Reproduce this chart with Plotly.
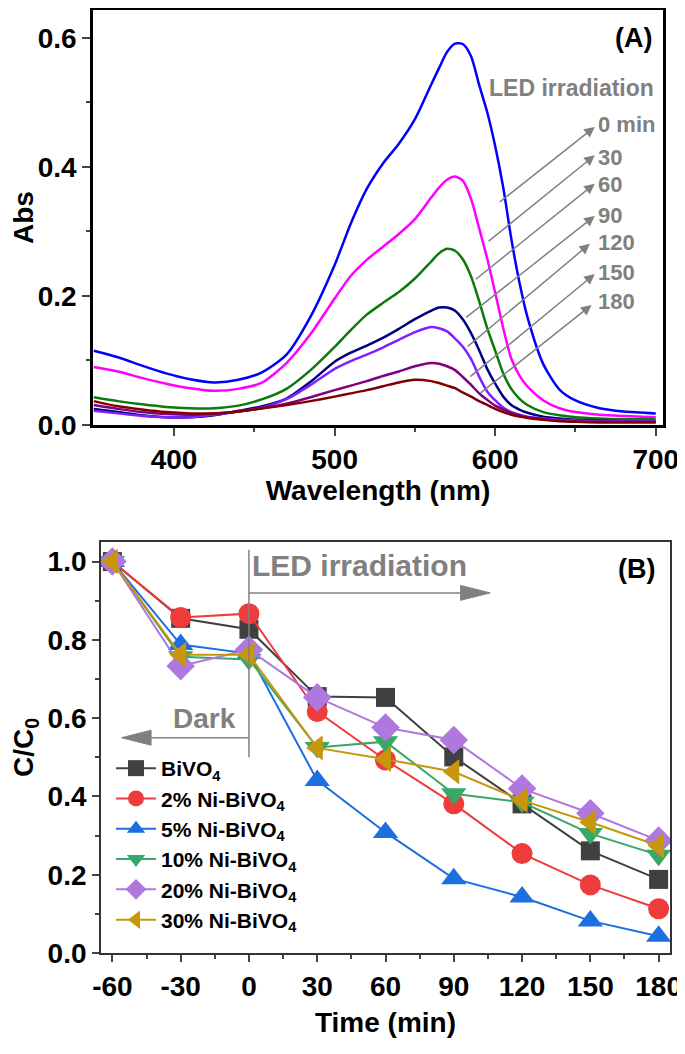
import plotly.graph_objects as go
from plotly.subplots import make_subplots

# ---- panel A: UV-vis spectra under LED irradiation ----
wavelength = [350, 365, 380, 395, 410, 425, 440, 455, 470, 485, 500, 510, 520, 530, 540,
              550, 560, 565, 570, 575, 580, 585, 590, 595, 600, 605, 610, 615, 620, 630,
              640, 650, 665, 680, 700]

abs_0 = [.115, .105, .092, .080, .071, .066, .070, .082, .109, .168, .248, .312, .366, .405, .436,
         .474, .527, .553, .578, .591, .590, .571, .527, .485, .432, .368, .289, .222, .168, .094,
         .055, .038, .026, .021, .018]
abs_30 = [.090, .083, .073, .064, .057, .053, .056, .066, .096, .141, .196, .231, .256, .276, .296,
          .319, .352, .368, .380, .385, .378, .350, .305, .258, .205, .150, .103, .077, .060, .038,
          .026, .020, .016, .014, .012]
abs_60 = [.043, .037, .032, .028, .026, .026, .030, .040, .056, .085, .121, .147, .171, .189, .206,
          .227, .253, .266, .273, .270, .256, .230, .192, .150, .115, .080, .056, .041, .031, .020,
          .015, .012, .010, .009, .009]
abs_90 = [.025, .020, .015, .012, .012, .015, .022, .029, .041, .067, .098, .112, .123, .135, .149,
          .164, .177, .182, .182, .177, .163, .142, .116, .087, .064, .044, .031, .024, .019, .013,
          .010, .008, .007, .006, .006]
abs_120 = [.022, .018, .014, .012, .012, .016, .021, .027, .040, .062, .087, .099, .109, .120, .132,
           .144, .152, .150, .145, .134, .121, .102, .075, .052, .038, .027, .020, .016, .013, .010,
           .008, .007, .006, .006, .006]
abs_150 = [.031, .025, .020, .017, .016, .018, .021, .026, .033, .043, .054, .061, .068, .076, .083,
           .091, .096, .095, .091, .085, .074, .062, .049, .039, .030, .024, .019, .015, .012, .009,
           .007, .006, .005, .005, .005]
abs_180 = [.037, .029, .024, .020, .018, .018, .021, .026, .031, .037, .044, .049, .054, .060, .066,
           .070, .068, .065, .061, .057, .050, .044, .037, .031, .025, .020, .016, .013, .011, .008,
           .006, .005, .004, .004, .004]

spectra = [abs_0, abs_30, abs_60, abs_90, abs_120, abs_150, abs_180]
spectra_names = ["0 min", "30", "60", "90", "120", "150", "180"]
spectra_colors = ["#0000FF", "#FF00FF", "#0A7A0A", "#000080", "#8020FF", "#800080", "#800000"]

# arrow tails / heads and label heights (panel A)
arrow_tail_x = [602, 595, 587, 581, 582, 583.5, 590]
arrow_tail_y = [0.344, 0.283, 0.224, 0.165, 0.120, 0.073, 0.048]
arrow_head_x = [662, 662, 662, 662, 659, 662, 660]
arrow_head_y = [0.462, 0.418, 0.374, 0.324, 0.281, 0.234, 0.186]
label_y = [0.465, 0.414, 0.372, 0.324, 0.283, 0.236, 0.192]

# ---- panel B: C/C0 vs time ----
time_min = [-60, -30, 0, 30, 60, 90, 120, 150, 180]
time_labels = ["-60", "-30", "0", "30", "60", "90", "120", "150", "180"]
c_bivo4 = [1.0, 0.855, 0.827, 0.655, 0.653, 0.501, 0.381, 0.261, 0.188]
c_2ni = [1.0, 0.857, 0.867, 0.617, 0.493, 0.381, 0.254, 0.174, 0.113]
c_5ni = [1.0, 0.788, 0.765, 0.441, 0.308, 0.190, 0.143, 0.082, 0.043]
c_10ni = [1.0, 0.757, 0.750, 0.525, 0.540, 0.407, 0.385, 0.305, 0.250]
c_20ni = [1.0, 0.733, 0.775, 0.653, 0.576, 0.544, 0.420, 0.357, 0.287]
c_30ni = [1.0, 0.762, 0.762, 0.524, 0.495, 0.463, 0.390, 0.334, 0.274]

series_b = [c_bivo4, c_2ni, c_5ni, c_10ni, c_20ni, c_30ni]
names_b = ["BiVO<sub>4</sub>", "2% Ni-BiVO<sub>4</sub>", "5% Ni-BiVO<sub>4</sub>",
           "10% Ni-BiVO<sub>4</sub>", "20% Ni-BiVO<sub>4</sub>", "30% Ni-BiVO<sub>4</sub>"]
colors_b = ["#404040", "#EE3B3B", "#1C6FE0", "#38A868", "#AF78DE", "#C8960C"]
symbols_b = ["square", "circle", "triangle-up", "triangle-down", "diamond", "triangle-left"]
sizes_b = [19, 21, 22, 22, 22, 22]

FONT = "Liberation Sans, Arial, sans-serif"
GRAY = "#808080"

# the page body adds an 8px margin, so the figure is a bit smaller than the window
W, H = 677, 1046

fig = make_subplots(rows=2, cols=1)

for ys, nm, col in zip(spectra, spectra_names, spectra_colors):
    fig.add_trace(go.Scatter(x=wavelength, y=ys, mode="lines", name=nm, showlegend=False,
                             line=dict(color=col, width=2.5, shape="spline", smoothing=0.7)),
                  row=1, col=1)

for ys, nm, col, sym, sz in zip(series_b, names_b, colors_b, symbols_b, sizes_b):
    fig.add_trace(go.Scatter(x=time_min, y=ys, mode="lines+markers", name=nm,
                             line=dict(color=col, width=2),
                             marker=dict(symbol=sym, size=sz, color=col, line=dict(width=0))),
                  row=2, col=1)

tick_font = dict(family=FONT, size=28, color="black", weight="bold")
title_font = dict(family=FONT, size=28, color="black", weight="bold")

# panel A axes
fig.update_xaxes(row=1, col=1, domain=[85 / W, 655 / W], range=[349.5, 704.5], automargin=False,
                 tickvals=[400, 500, 600, 700], ticks="outside", ticklen=8, tickwidth=2,
                 minor=dict(tickvals=[450, 550, 650], ticks="outside", ticklen=4, tickwidth=2),
                 showline=True, linewidth=2.5, linecolor="black", mirror=True,
                 showgrid=False, zeroline=False, tickfont=tick_font,
                 title=dict(text="Wavelength (nm)", font=title_font, standoff=4))
fig.update_yaxes(row=1, col=1, domain=[1 - 417 / H, 0.998], range=[0, 0.643], automargin=False,
                 tickvals=[0, 0.2, 0.4, 0.6], ticktext=["0.0", "0.2", "0.4", "0.6"],
                 ticks="outside", ticklen=8, tickwidth=2,
                 minor=dict(tickvals=[0.1, 0.3, 0.5], ticks="outside", ticklen=4, tickwidth=2),
                 showline=True, linewidth=2.5, linecolor="black", mirror=True,
                 showgrid=False, zeroline=False, tickfont=tick_font,
                 title=dict(text="Abs", font=title_font, standoff=8))

# panel B axes
fig.update_xaxes(row=2, col=1, domain=[93 / W, 662 / W], range=[-65, 185], automargin=False,
                 tickvals=time_min, ticktext=time_labels, ticks="outside", ticklen=7, tickwidth=1.5,
                 minor=dict(dtick=15, tick0=-45, ticks="outside", ticklen=4, tickwidth=1.5),
                 showline=True, linewidth=1.8, linecolor="#333333", mirror=True,
                 showgrid=False, zeroline=False, tickfont=tick_font,
                 title=dict(text="Time (min)", font=title_font, standoff=12))
fig.update_yaxes(row=2, col=1, domain=[1 - 945 / H, 1 - 534 / H], range=[0, 1.05], automargin=False,
                 tickvals=[0, 0.2, 0.4, 0.6, 0.8, 1.0],
                 ticktext=["0.0", "0.2", "0.4", "0.6", "0.8", "1.0"],
                 ticks="outside", ticklen=7, tickwidth=1.5,
                 minor=dict(dtick=0.1, ticks="outside", ticklen=4, tickwidth=1.5),
                 showline=True, linewidth=1.8, linecolor="#333333", mirror=True,
                 showgrid=False, zeroline=False, tickfont=tick_font,
                 title=dict(text="C/C<sub>0</sub>", font=title_font, standoff=8))

ann = []
# panel A labels and arrows
ann.append(dict(x=700, y=0.522, xref="x", yref="y", text="LED irradiation", showarrow=False,
                xanchor="right", yanchor="middle",
                font=dict(family=FONT, size=23, color=GRAY, weight="bold")))
ann.append(dict(x=699, y=0.60, xref="x", yref="y", text="(A)", showarrow=False,
                xanchor="right", yanchor="middle",
                font=dict(family=FONT, size=27, color="black", weight="bold")))
for tx, ty, hx, hy, ly, nm in zip(arrow_tail_x, arrow_tail_y, arrow_head_x, arrow_head_y,
                                  label_y, spectra_names):
    ann.append(dict(x=hx, y=hy, ax=tx, ay=ty, xref="x", yref="y", axref="x", ayref="y",
                    text="", showarrow=True, arrowhead=2, arrowsize=1.4, arrowwidth=1.5,
                    arrowcolor=GRAY, standoff=0))
    ann.append(dict(x=663, y=ly, xref="x", yref="y", text=nm, showarrow=False,
                    xanchor="left", yanchor="middle",
                    font=dict(family=FONT, size=22, color=GRAY, weight="bold")))

# panel B labels
ann.append(dict(x=0.5, y=0.99, xref="x2", yref="y2", text="LED irradiation", showarrow=False,
                xanchor="left", yanchor="middle",
                font=dict(family=FONT, size=30, color=GRAY, weight="bold")))
ann.append(dict(x=-5, y=0.60, xref="x2", yref="y2", text="Dark", showarrow=False,
                xanchor="right", yanchor="middle",
                font=dict(family=FONT, size=28, color=GRAY, weight="bold")))
ann.append(dict(x=179.5, y=0.98, xref="x2", yref="y2", text="(B)", showarrow=False,
                xanchor="right", yanchor="middle",
                font=dict(family=FONT, size=27, color="black", weight="bold")))

shapes = [
    dict(type="line", xref="x2", yref="y2", x0=0, x1=0, y0=0.50, y1=1.03,
         line=dict(color=GRAY, width=1.5)),
    dict(type="line", xref="x2", yref="y2", x0=0, x1=93, y0=0.92, y1=0.92,
         line=dict(color=GRAY, width=1.5)),
    dict(type="path", xref="x2", yref="y2", path="M 93,0.901 L 106,0.92 L 93,0.939 Z",
         fillcolor=GRAY, line=dict(color=GRAY, width=1)),
    dict(type="line", xref="x2", yref="y2", x0=0, x1=-43, y0=0.55, y1=0.55,
         line=dict(color=GRAY, width=1.5)),
    dict(type="path", xref="x2", yref="y2", path="M -43,0.531 L -56,0.55 L -43,0.569 Z",
         fillcolor=GRAY, line=dict(color=GRAY, width=1)),
]

fig.update_layout(
    width=W, height=H,
    margin=dict(l=0, r=0, t=0, b=0),
    paper_bgcolor="white", plot_bgcolor="white",
    font=dict(family=FONT, color="black"),
    annotations=ann, shapes=shapes,
    legend=dict(x=103 / W, y=1 - 740 / H, xanchor="left", yanchor="top",
                bgcolor="rgba(0,0,0,0)", itemwidth=40, tracegroupgap=0,
                font=dict(family=FONT, size=21, color="black", weight="bold")),
)

fig.write_html("out.html")
